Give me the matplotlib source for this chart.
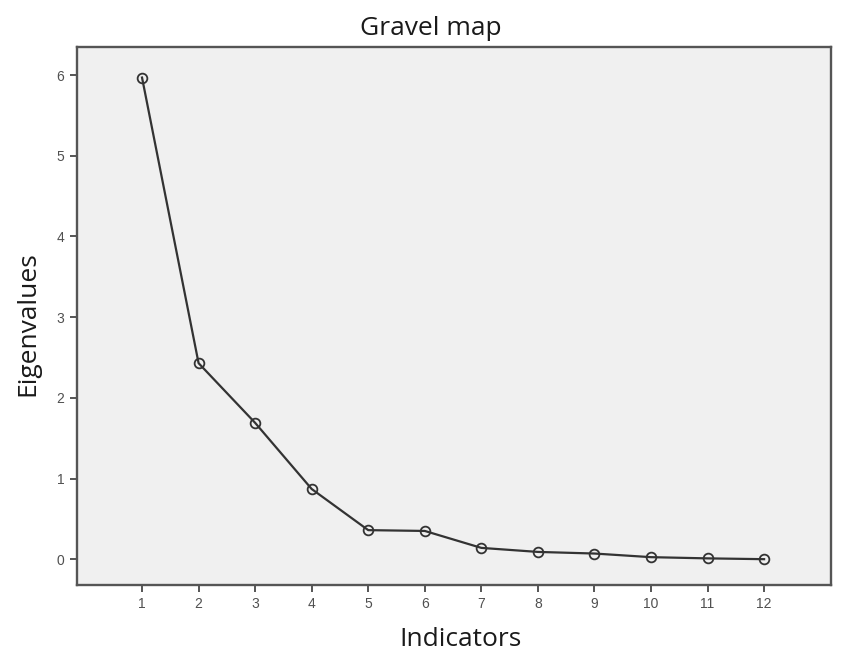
import matplotlib
matplotlib.use("Agg")
import matplotlib.pyplot as plt

indicators = [1, 2, 3, 4, 5, 6, 7, 8, 9, 10, 11, 12]
eigenvalues = [5.97, 2.43, 1.69, 0.87, 0.36, 0.35, 0.14, 0.09, 0.07, 0.025, 0.01, 0.0]
yticks = [0, 1, 2, 3, 4, 5, 6]

fig = plt.figure(figsize=(8.47, 6.57), dpi=100)
ax = fig.add_axes([0.0909, 0.1096, 0.890, 0.819])
ax.set_facecolor("#f0f0f0")
ax.plot(indicators, eigenvalues, color="#333333", lw=1.6, marker="o", ms=7,
        mfc="none", mec="#333333", mew=1.3)
ax.set_xlim(-0.15, 13.18)
ax.set_ylim(-0.32, 6.35)
ax.set_xticks(indicators)
ax.set_yticks(yticks)
for s in ax.spines.values():
    s.set_color("#555555")
    s.set_linewidth(1.7)
ax.tick_params(axis="both", direction="out", length=5, width=1.4, color="#555555",
               labelsize=10, labelcolor="#505050", pad=4)
for lab in ax.get_xticklabels() + ax.get_yticklabels():
    lab.set_family("Liberation Sans")
fig.text(0.509, 0.957, "Gravel map", fontsize=19, family="Open Sans",
         color="#1a1a1a", ha="center", va="center")
ax.set_xlabel("Indicators", fontsize=19, family="Open Sans", color="#1a1a1a", labelpad=11)
ax.xaxis.label.set_x(0.509)
ax.set_ylabel("Eigenvalues", fontsize=19, family="Open Sans", color="#1a1a1a", labelpad=12)
ax.yaxis.label.set_y(0.485)
fig.savefig("out.png", dpi=100)
